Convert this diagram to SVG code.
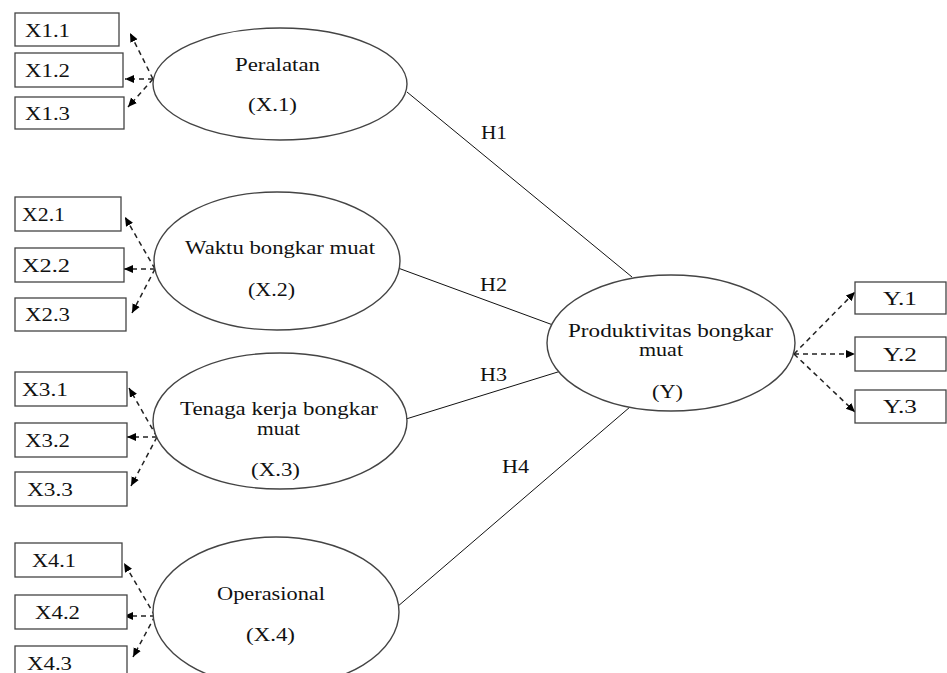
<svg xmlns="http://www.w3.org/2000/svg" width="947" height="673" viewBox="0 0 947 673">
<defs>
<marker id="ah" markerWidth="10" markerHeight="10" refX="9" refY="5" orient="auto" markerUnits="userSpaceOnUse">
<path d="M0,1 L9,5 L0,9 Z" fill="#000"/>
</marker>
</defs>
<style>
text{font-family:"Liberation Serif","Times New Roman",serif;font-size:18px;fill:#111}
.box{fill:#fff;stroke:#444;stroke-width:1.3}
.ell{fill:#fff;stroke:#444;stroke-width:1.4}
.dash{fill:none;stroke:#222;stroke-width:1.5;stroke-dasharray:5,4;marker-end:url(#ah)}
.path{fill:none;stroke:#111;stroke-width:1}
</style>
<rect width="947" height="673" fill="#fff"/>

<g id="connectors">
<line class="path" x1="407" y1="92" x2="632" y2="277"/>
<line class="path" x1="398" y1="268" x2="553" y2="325"/>
<line class="path" x1="406" y1="419" x2="561" y2="371"/>
<line class="path" x1="397" y1="607" x2="630" y2="407"/>
<path class="dash" d="M153,79 L130,33"/>
<path class="dash" d="M153,79 L125,79"/>
<path class="dash" d="M153,79 L128,107"/>
<path class="dash" d="M155,269 L125,217"/>
<path class="dash" d="M155,269 L124,269"/>
<path class="dash" d="M155,269 L132,313"/>
<path class="dash" d="M157,437 L129,388"/>
<path class="dash" d="M157,437 L127,437"/>
<path class="dash" d="M157,437 L131,486"/>
<path class="dash" d="M155,616 L124,563"/>
<path class="dash" d="M155,616 L124,616"/>
<path class="dash" d="M155,616 L133,657"/>
<path class="dash" d="M794,354 L855,292"/>
<path class="dash" d="M794,354 L855,354"/>
<path class="dash" d="M794,354 L855,412"/>
<text x="481" y="139" textLength="26" lengthAdjust="spacingAndGlyphs">H1</text>
<text x="480" y="291" textLength="27" lengthAdjust="spacingAndGlyphs">H2</text>
<text x="480" y="381" textLength="27" lengthAdjust="spacingAndGlyphs">H3</text>
<text x="502" y="473" textLength="27" lengthAdjust="spacingAndGlyphs">H4</text>
</g>

<g id="X1">
<ellipse class="ell" cx="280" cy="84" rx="127" ry="56"/>
<text x="235" y="71" textLength="85" lengthAdjust="spacingAndGlyphs">Peralatan</text>
<text x="248" y="111" textLength="49" lengthAdjust="spacingAndGlyphs">(X.1)</text>
</g>
<g id="X2">
<ellipse class="ell" cx="277" cy="261" rx="123" ry="69"/>
<text x="185" y="254" textLength="190" lengthAdjust="spacingAndGlyphs">Waktu bongkar muat</text>
<text x="248" y="296" textLength="47" lengthAdjust="spacingAndGlyphs">(X.2)</text>
</g>
<g id="X3">
<ellipse class="ell" cx="280" cy="421" rx="127" ry="68"/>
<text x="180" y="415" textLength="198" lengthAdjust="spacingAndGlyphs">Tenaga kerja bongkar</text>
<text x="257" y="435" textLength="43" lengthAdjust="spacingAndGlyphs">muat</text>
<text x="251" y="476" textLength="49" lengthAdjust="spacingAndGlyphs">(X.3)</text>
</g>
<g id="X4">
<ellipse class="ell" cx="276" cy="612" rx="123" ry="75"/>
<text x="217" y="600" textLength="108" lengthAdjust="spacingAndGlyphs">Operasional</text>
<text x="246" y="641" textLength="49" lengthAdjust="spacingAndGlyphs">(X.4)</text>
</g>
<g id="Y">
<ellipse class="ell" cx="671" cy="343" rx="124" ry="68"/>
<text x="568" y="337" textLength="205" lengthAdjust="spacingAndGlyphs">Produktivitas bongkar</text>
<text x="639" y="356" textLength="44" lengthAdjust="spacingAndGlyphs">muat</text>
<text x="652" y="398" textLength="31" lengthAdjust="spacingAndGlyphs">(Y)</text>
</g>

<g id="X1.1"><rect class="box" x="15" y="13" width="104" height="33"/><text x="25" y="37" textLength="45" lengthAdjust="spacingAndGlyphs">X1.1</text></g>
<g id="X1.2"><rect class="box" x="15" y="53" width="108" height="34"/><text x="25" y="77" textLength="45" lengthAdjust="spacingAndGlyphs">X1.2</text></g>
<g id="X1.3"><rect class="box" x="15" y="97" width="109" height="32"/><text x="25" y="120" textLength="45" lengthAdjust="spacingAndGlyphs">X1.3</text></g>

<g id="X2.1"><rect class="box" x="15" y="197" width="106" height="34"/><text x="22" y="221" textLength="43" lengthAdjust="spacingAndGlyphs">X2.1</text></g>
<g id="X2.2"><rect class="box" x="15" y="248" width="109" height="34"/><text x="22" y="272" textLength="48" lengthAdjust="spacingAndGlyphs">X2.2</text></g>
<g id="X2.3"><rect class="box" x="15" y="298" width="111" height="33"/><text x="25" y="321" textLength="45" lengthAdjust="spacingAndGlyphs">X2.3</text></g>

<g id="X3.1"><rect class="box" x="15" y="372" width="112" height="34"/><text x="22" y="396" textLength="46" lengthAdjust="spacingAndGlyphs">X3.1</text></g>
<g id="X3.2"><rect class="box" x="15" y="423" width="112" height="34"/><text x="25" y="447" textLength="45" lengthAdjust="spacingAndGlyphs">X3.2</text></g>
<g id="X3.3"><rect class="box" x="15" y="472" width="112" height="34"/><text x="27" y="496" textLength="46" lengthAdjust="spacingAndGlyphs">X3.3</text></g>

<g id="X4.1"><rect class="box" x="15" y="543" width="107" height="34"/><text x="32" y="567" textLength="44" lengthAdjust="spacingAndGlyphs">X4.1</text></g>
<g id="X4.2"><rect class="box" x="15" y="595" width="112" height="34"/><text x="35" y="619" textLength="45" lengthAdjust="spacingAndGlyphs">X4.2</text></g>
<g id="X4.3"><rect class="box" x="15" y="646" width="112" height="34"/><text x="27" y="670" textLength="45" lengthAdjust="spacingAndGlyphs">X4.3</text></g>

<g id="Y.1"><rect class="box" x="855" y="282" width="91" height="32"/><text x="883" y="305" textLength="34" lengthAdjust="spacingAndGlyphs">Y.1</text></g>
<g id="Y.2"><rect class="box" x="855" y="337" width="91" height="34"/><text x="883" y="361" textLength="34" lengthAdjust="spacingAndGlyphs">Y.2</text></g>
<g id="Y.3"><rect class="box" x="855" y="390" width="91" height="33"/><text x="883" y="413" textLength="34" lengthAdjust="spacingAndGlyphs">Y.3</text></g>
</svg>
